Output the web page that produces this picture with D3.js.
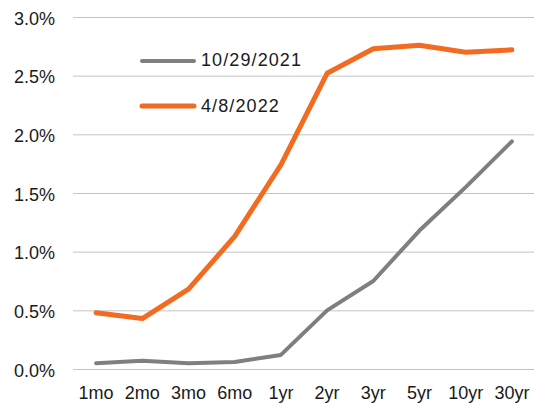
<!DOCTYPE html>
<html>
<head>
<meta charset="utf-8">
<script src="https://cdn.jsdelivr.net/npm/d3@7"></script>
<style>
  html, body { margin: 0; padding: 0; background: #fff; }
  svg text { font-family: "Liberation Sans", Arial, sans-serif; fill: #1a1a1a; }
</style>
</head>
<body>
<svg id="chart" width="534" height="403"></svg>
<script>
// Treasury yield curve, two dates
const maturities = ["1mo", "2mo", "3mo", "6mo", "1yr", "2yr", "3yr", "5yr", "10yr", "30yr"];
const yieldsOct2021 = [0.05, 0.07, 0.05, 0.06, 0.12, 0.50, 0.75, 1.18, 1.55, 1.94];
const yieldsApr2022 = [0.48, 0.43, 0.68, 1.13, 1.74, 2.52, 2.73, 2.76, 2.70, 2.72];
const seriesNames = ["10/29/2021", "4/8/2022"];
const seriesColors = ["#7f7f7f", "#f26b21"];
const yTicks = [0, 0.5, 1.0, 1.5, 2.0, 2.5, 3.0];

const svg = d3.select("#chart");
const margin = { left: 73, top: 17 };
const FONT = "'Liberation Sans', Arial, sans-serif";

const x = d3.scaleBand().domain(maturities).range([margin.left, 535]);
const y = d3.scaleLinear().domain([0, 3]).range([369, margin.top]);

// horizontal gridlines
svg.append("g")
  .selectAll("line")
  .data(yTicks)
  .join("line")
  .attr("x1", margin.left).attr("x2", 534)
  .attr("y1", d => y(d) + 0.5).attr("y2", d => y(d) + 0.5)
  .attr("stroke", "#c4c4c4").attr("stroke-width", 1);

// y-axis labels
const yAxis = d3.axisLeft(y).tickValues(yTicks).tickFormat(d => d.toFixed(1) + "%").tickSize(0).tickPadding(18);
svg.append("g")
  .attr("transform", `translate(${margin.left},0)`)
  .call(yAxis)
  .call(g => g.select(".domain").remove())
  .call(g => g.selectAll("text")
    .attr("font-size", 18).attr("dy", "0.4em")
    .attr("fill", "#1a1a1a").style("font-family", FONT));

// x-axis labels
const xAxis = d3.axisBottom(x).tickSize(0).tickPadding(17);
svg.append("g")
  .attr("transform", "translate(0,369)")
  .call(xAxis)
  .call(g => g.select(".domain").remove())
  .call(g => g.selectAll("text")
    .attr("font-size", 18).attr("dy", "0.71em").attr("y", 17)
    .attr("fill", "#1a1a1a").style("font-family", FONT));

const line = d3.line()
  .x((d, i) => x(maturities[i]) + x.bandwidth() / 2)
  .y(d => y(d));

const series = [yieldsOct2021, yieldsApr2022];
series.forEach((vals, k) => {
  svg.append("path")
    .datum(vals)
    .attr("d", line)
    .attr("fill", "none")
    .attr("stroke", seriesColors[k])
    .attr("stroke-width", k === 0 ? 4 : 5)
    .attr("stroke-linejoin", "round")
    .attr("stroke-linecap", "round");
});

// legend
const legendY = [61, 106];
const legendBase = [66, 111.5];
seriesNames.forEach((name, k) => {
  const g = svg.append("g");
  g.append("line")
    .attr("x1", 142).attr("x2", 194)
    .attr("y1", legendY[k]).attr("y2", legendY[k])
    .attr("stroke", seriesColors[k])
    .attr("stroke-width", k === 0 ? 4 : 5)
    .attr("stroke-linecap", "round");
  g.append("text")
    .attr("x", 201).attr("y", legendBase[k])
    .attr("font-size", 18)
    .attr("letter-spacing", 1.1)
    .text(name);
});
</script>
</body>
</html>
